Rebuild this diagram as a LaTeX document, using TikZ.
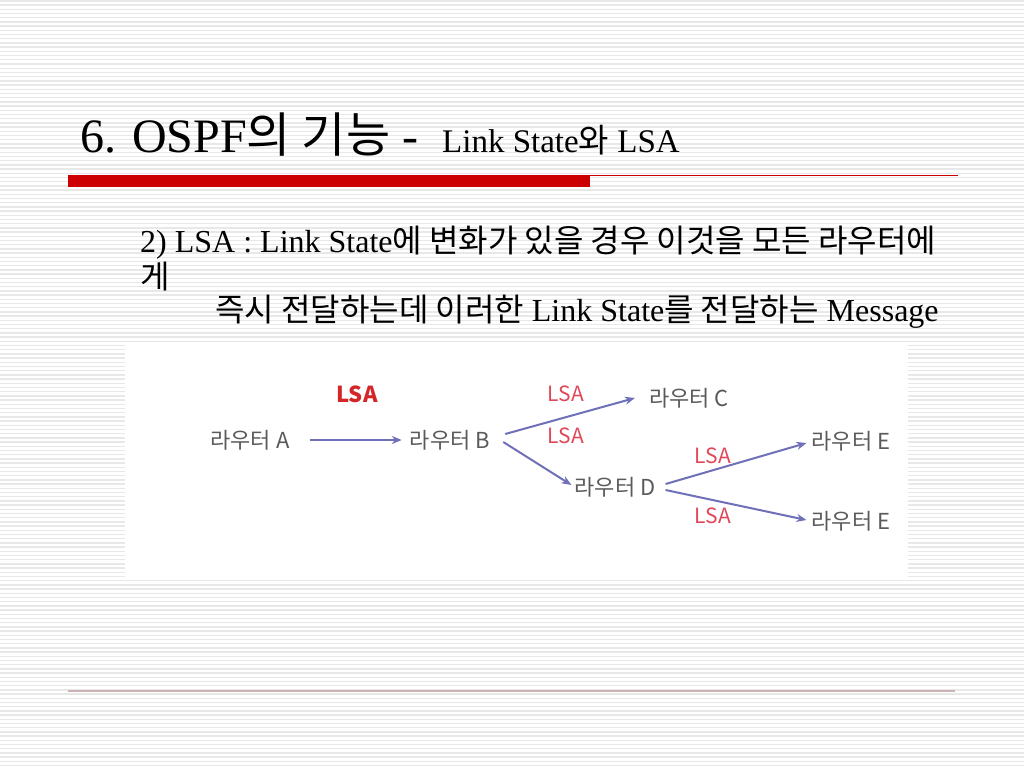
\documentclass[tikz,border=0pt]{standalone}
\usepackage{fontspec}
\setmainfont{Liberation Serif}
\newfontfamily\krfont{Noto Sans CJK KR}
\newcommand\kr[1]{{\krfont #1}}
\usetikzlibrary{positioning, arrows, arrows.meta}
\definecolor{slidered}{HTML}{CC0000}
\definecolor{linkblue}{HTML}{7070B8}
\definecolor{lsared}{HTML}{E0485A}
\definecolor{routergray}{HTML}{5A5A5A}
\definecolor{stripegray}{HTML}{E8E8E8}
\tikzset{>={Stealth[length=10pt, width=8pt]},
  router/.style={text=routergray, font=\krfont\fontsize{22}{22}\selectfont, inner sep=0pt},
  lsa/.style={text=lsared, font=\krfont\fontsize{21}{21}\selectfont, inner sep=0pt},
  link/.style={->, draw=linkblue, line width=2pt},
  slidetext/.style={anchor=base west, inner sep=0pt},
}

\begin{document}
\begin{tikzpicture}[x=1pt, y=-1pt]
  \fill[white] (0,0) rectangle (1024,768);
  \useasboundingbox (0,0) rectangle (1024,768);
  \foreach \y in {1,5.2,...,768}
    \draw[stripegray, line width=1.4pt] (0,\y) -- (1024,\y);

  % title and rule
  \node[slidetext, font=\fontsize{48}{48}\selectfont] (title) at (80,152)
    {6. OSPF\kr{의 기능} -\hspace{24pt}{\fontsize{33}{33}\selectfont Link State\kr{와} LSA}};
  \fill[slidered] (68,175) rectangle (590,187);
  \draw[slidered, line width=1pt] (590,175.5) -- (958,175.5);

  % body text
  \node[slidetext, font=\fontsize{32}{32}\selectfont] (line1) at (140,252)
    {2) LSA : Link State\kr{에 변화가 있을 경우 이것을 모든 라우터에}};
  \node[slidetext, font=\fontsize{32}{32}\selectfont] (line2) at (140,288) {\kr{게}};
  \node[slidetext, font=\fontsize{32}{32}\selectfont] (line3) at (215,321)
    {\kr{즉시 전달하는데 이러한} Link State\kr{를 전달하는} Message};

  % diagram
  \fill[white] (125,343) rectangle (908,578);
  \node[router] (ra) at (250,440) {라우터 A};
  \node[router] (rb) at (450,440) {라우터 B};
  \node[router] (rc) at (689,398) {라우터 C};
  \node[router] (rd) at (615,487) {라우터 D};
  \node[router] (re1) at (851,441) {라우터 E};
  \node[router] (re2) at (851,521) {라우터 E};

  \draw[link] ([xshift=20pt]ra.east) -- ([xshift=-8pt]rb.west);
  \draw[link] ([shift={(15,-6)}]rb.east) -- ([shift={(-14,0)}]rc.west);
  \draw[link] ([shift={(13,2)}]rb.east) -- ([shift={(-3,-2)}]rd.west);
  \draw[link] ([shift={(10,-3)}]rd.east) -- ([shift={(-5,2)}]re1.west);
  \draw[link] ([shift={(10,3)}]rd.east) -- ([shift={(-5,-1)}]re2.west);

  \node[lsa, font=\krfont\bfseries\fontsize{22}{22}\selectfont, text=slidered!85!white] (lsaab) at (357,394) {LSA};
  \node[lsa] (lsabc) at (566,394) {LSA};
  \node[lsa] (lsabd) at (566,436) {LSA};
  \node[lsa] (lsade1) at (713,456) {LSA};
  \node[lsa] (lsade2) at (713,516) {LSA};

  % footer rule
  \draw[red!20!gray!50, line width=1.5pt] (68,691) -- (955,691);
\end{tikzpicture}
\end{document}
